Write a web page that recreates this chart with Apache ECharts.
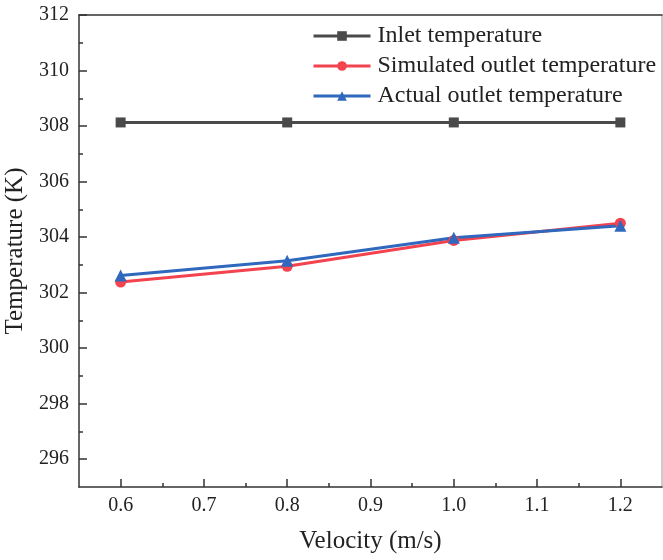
<!DOCTYPE html>
<html>
<head>
<meta charset="utf-8">
<script src="https://cdn.jsdelivr.net/npm/echarts@6/dist/echarts.min.js"></script>
<style>html,body{margin:0;padding:0;background:#fff}#c{width:663px;height:560px}</style>
</head>
<body>
<div id="c"></div>
<script>
const velocities = [0.6, 0.8, 1.0, 1.2];
const inletTemp = [308.13, 308.13, 308.13, 308.13];
const simulatedOutlet = [302.38, 302.95, 303.88, 304.50];
const actualOutlet = [302.62, 303.15, 303.98, 304.41];
const xMajorTicks = [0.6, 0.7, 0.8, 0.9, 1.0, 1.1, 1.2];
const xMinorTicks = [0.65, 0.75, 0.85, 0.95, 1.05, 1.15];
const yMajorTicks = [296, 298, 300, 302, 304, 306, 308, 310, 312];
const yMinorTicks = [297, 299, 301, 303, 305, 307, 309, 311];
const seriesNames = ['Inlet temperature', 'Simulated outlet temperature', 'Actual outlet temperature'];

const font = 'Liberation Serif';
const pair = (ys) => velocities.map((v, i) => [v, ys[i]]);
const axisCol = '#333';

const chart = echarts.init(document.getElementById('c'), null, {renderer: 'canvas'});
chart.setOption({
  animation: false,
  backgroundColor: '#fff',
  grid: {left: 79, right: 1, top: 15, bottom: 73, containLabel: false, outerBoundsMode: 'none'},
  legend: {
    orient: 'vertical', left: 307, top: 19,
    itemWidth: 57, itemHeight: 12, itemGap: 6,
    lineStyle: {width: 3},
    textStyle: {fontFamily: font, fontSize: 24, color: '#222', lineHeight: 24, padding: [0, 0, 0, 2]},
    data: seriesNames
  },
  xAxis: [
    {
      type: 'value', min: 0.55, max: 1.25, position: 'bottom',
      name: 'Velocity (m/s)', nameLocation: 'middle', nameGap: 42,
      nameTextStyle: {fontFamily: font, fontSize: 25, color: '#222'},
      axisLine: {show: true, onZero: false, lineStyle: {color: axisCol, width: 1.5}},
      axisTick: {show: true, inside: true, length: 8, customValues: xMajorTicks, lineStyle: {color: axisCol, width: 1.5}},
      axisLabel: {customValues: xMajorTicks, margin: 9, fontFamily: font, fontSize: 20, color: '#222', formatter: v => v.toFixed(1)},
      splitLine: {show: false}
    },
    {
      type: 'value', min: 0.55, max: 1.25, position: 'bottom',
      axisLine: {show: false, onZero: false},
      axisTick: {show: true, inside: true, length: 4, customValues: xMinorTicks, lineStyle: {color: axisCol, width: 1.5}},
      axisLabel: {show: false},
      splitLine: {show: false}
    },
    {
      type: 'value', min: 0.55, max: 1.25, position: 'top',
      axisLine: {show: true, onZero: false, lineStyle: {color: axisCol, width: 1.5}},
      axisTick: {show: false}, axisLabel: {show: false}, splitLine: {show: false}
    }
  ],
  yAxis: [
    {
      type: 'value', min: 295, max: 312, position: 'left',
      name: 'Temperature (K)', nameLocation: 'middle', nameGap: 50,
      nameTextStyle: {fontFamily: font, fontSize: 25, color: '#222'},
      axisLine: {show: true, onZero: false, lineStyle: {color: axisCol, width: 1.5}},
      axisTick: {show: true, inside: true, length: 8, customValues: yMajorTicks, lineStyle: {color: axisCol, width: 1.5}},
      axisLabel: {customValues: yMajorTicks, margin: 10, fontFamily: font, fontSize: 20, color: '#222'},
      splitLine: {show: false}
    },
    {
      type: 'value', min: 295, max: 312, position: 'left',
      axisLine: {show: false, onZero: false},
      axisTick: {show: true, inside: true, length: 4, customValues: yMinorTicks, lineStyle: {color: axisCol, width: 1.5}},
      axisLabel: {show: false},
      splitLine: {show: false}
    },
    {
      type: 'value', min: 295, max: 312, position: 'right',
      axisLine: {show: true, onZero: false, lineStyle: {color: '#bbb', width: 1.5}},
      axisTick: {show: false}, axisLabel: {show: false}, splitLine: {show: false}
    }
  ],
  series: [
    {
      name: seriesNames[0], type: 'line', data: pair(inletTemp),
      symbol: 'rect', symbolSize: 10,
      lineStyle: {color: '#4a4a4a', width: 3}, itemStyle: {color: '#4a4a4a'}
    },
    {
      name: seriesNames[1], type: 'line', data: pair(simulatedOutlet),
      symbol: 'circle', symbolSize: 11,
      lineStyle: {color: '#f2434f', width: 3}, itemStyle: {color: '#f2434f'}
    },
    {
      name: seriesNames[2], type: 'line', data: pair(actualOutlet),
      symbol: 'triangle', symbolSize: 12,
      lineStyle: {color: '#2f68bd', width: 3}, itemStyle: {color: '#2f68bd'}
    }
  ]
});
</script>
</body>
</html>
